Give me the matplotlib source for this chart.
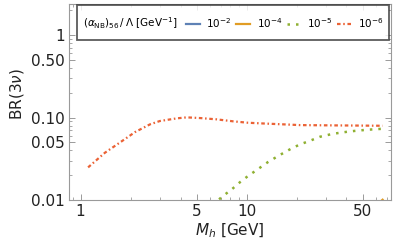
import matplotlib
matplotlib.use("Agg")
import matplotlib.pyplot as plt
from matplotlib.offsetbox import HPacker, DrawingArea

# ---- data ----
mh_red = [1.11, 1.4, 1.73, 2.13, 2.62, 3.0, 3.8, 4.36, 5.25, 6.6, 8.3, 10.2, 13.0, 16.0, 21.0, 30.0, 45.0, 66.0]
br_red = [0.0249, 0.0374, 0.050, 0.0667, 0.0827, 0.0907, 0.0978, 0.1005, 0.0986, 0.0951, 0.090, 0.0865, 0.0845, 0.083, 0.081, 0.0805, 0.080, 0.0795]

mh_green = [6.83, 7.25, 8.15, 9.14, 10.25, 11.5, 13.5, 16.0, 18.5, 21.0, 24.1, 27.7, 33.2, 42.0, 53.0, 66.0]
br_green = [0.0102, 0.0113, 0.0135, 0.0165, 0.0197, 0.0231, 0.0290, 0.0355, 0.0418, 0.0473, 0.0523, 0.0585, 0.0636, 0.068, 0.0711, 0.0731]

mh_orange = [60.0, 63.0, 66.0]
br_orange = [0.0085, 0.0093, 0.0101]

mh_blue = [60.0, 63.0, 66.0]
br_blue = [0.0004, 0.0005, 0.0006]

series_labels = [r"$10^{-2}$", r"$10^{-4}$", r"$10^{-5}$", r"$10^{-6}$"]
legend_title = r"$(\alpha_{\rm NB})_{56}\,/\,\Lambda$ [GeV$^{-1}$]"

xticks = [1, 5, 10, 50]
xticklabels = ["1", "5", "10", "50"]
yticks = [0.01, 0.05, 0.10, 0.50, 1]
yticklabels = ["0.01", "0.05", "0.10", "0.50", "1"]

colors = ["#5E81B5", "#E19C24", "#8FB032", "#EB6235"]

fig = plt.figure(figsize=(3.99, 2.47), dpi=100)
ax = fig.add_axes([0.173, 0.190, 0.807, 0.794])

l1, = ax.plot(mh_blue, br_blue, color=colors[0], lw=1.6, label=series_labels[0])
l2, = ax.plot(mh_orange, br_orange, color=colors[1], lw=1.6, label=series_labels[1])
l3, = ax.plot(mh_green, br_green, color=colors[2], lw=1.8, linestyle=(0, (1, 2.4)),
              dash_capstyle="butt", label=series_labels[2])
l4, = ax.plot(mh_red, br_red, color=colors[3], lw=1.6, linestyle=(0, (1.6, 1.2, 0.7, 1.2)),
              dash_capstyle="butt", label=series_labels[3])

ax.set_xscale("log")
ax.set_yscale("log")
ax.set_xlim(0.852, 74.2)
ax.set_ylim(0.01, 2.38)

ax.set_xticks(xticks)
ax.set_xticklabels(xticklabels)
ax.set_yticks(yticks)
ax.set_yticklabels(yticklabels)

for sp in ax.spines.values():
    sp.set_color("#9a9a9a")
    sp.set_linewidth(0.8)
ax.tick_params(which="both", direction="in", top=True, right=True, color="#9a9a9a")
ax.tick_params(which="major", length=4, width=0.7, labelsize=11, labelcolor="#222222", pad=3)
ax.tick_params(which="minor", length=2.2, width=0.6)

ax.set_xlabel(r"$M_h$ [GeV]", fontsize=11, color="#222222", labelpad=2)
ax.set_ylabel(r"BR(3$\nu$)", fontsize=11, color="#222222")
ax.yaxis.set_label_coords(-0.133, 0.54)

leg = ax.legend(handles=[l1, l2, l3, l4], labels=series_labels, title=legend_title,
                ncol=4, loc="upper right", bbox_to_anchor=(0.994, 0.995),
                fontsize=7.5, title_fontsize=7.5, frameon=True, fancybox=False,
                handlelength=1.35, handletextpad=0.6, columnspacing=0.45,
                borderpad=0.6, edgecolor="#333333", borderaxespad=0.0)
leg.get_frame().set_linewidth(1.3)
# place the title inline, to the left of the entries
spacer = DrawingArea(0, 17)
inner = HPacker(pad=0, sep=6, align="center",
                children=[leg._legend_title_box, leg._legend_handle_box])
leg._legend_box = HPacker(pad=4.3, sep=0, align="center", children=[spacer, inner])
leg._legend_box.set_figure(fig)
leg._legend_box.axes = ax
leg._legend_box.set_offset(leg._findoffset)

fig.savefig("out.png", dpi=100)
